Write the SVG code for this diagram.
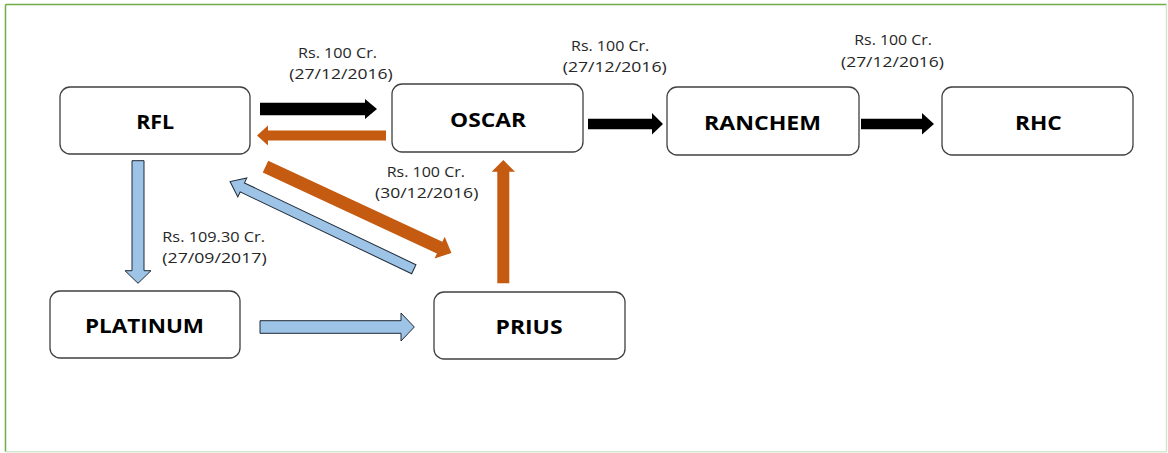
<svg xmlns="http://www.w3.org/2000/svg" width="1168" height="453" viewBox="0 0 1168 453">
<style>
.box{fill:#fff;stroke:#404040;stroke-width:1.3}
.nl{font-family:"Open Sans","Liberation Sans",Arial,sans-serif;font-weight:bold;font-size:20px;fill:#000;text-anchor:middle}
.el{font-family:"Open Sans","Liberation Sans",Arial,sans-serif;font-size:15px;fill:#262626}
.blk{fill:#000}
.org{fill:#c55a11}
.blu{fill:#9dc3e6;stroke:#1f2a36;stroke-width:1}
</style>
<rect x="0" y="0" width="1168" height="453" fill="#fff"/>
<g id="frame">
<line x1="5.5" y1="4.5" x2="1166.5" y2="4.5" stroke="#70ad47" stroke-width="1.5"/>
<line x1="5.5" y1="4.5" x2="5.5" y2="452" stroke="#70ad47" stroke-width="1.5"/>
<line x1="1166.5" y1="4.5" x2="1166.5" y2="452" stroke="#d6e6cc" stroke-width="1.5"/>
<line x1="5.5" y1="451.8" x2="1166.5" y2="451.8" stroke="#d6e6cc" stroke-width="1.5"/>
</g>
<g id="connectors">
<polygon class="blk" points="260,102.8 365,102.8 365,99 377,109 365,119 365,115.2 260,115.2"/>
<polygon class="org" points="386,130.5 268,130.5 268,125.5 257,135.5 268,145.5 268,140.5 386,140.5"/>
<polygon class="blk" points="588,118.8 652,118.8 652,113 663,124 652,134.5 652,129.2 588,129.2"/>
<polygon class="blk" points="861,118.8 922,118.8 922,113 934,124 922,134.5 922,129.2 861,129.2"/>
<polygon class="blu" points="132,160.7 144,160.7 144,270.7 151,270.7 138,283.3 125,270.7 132,270.7"/>
<polygon class="blu" points="260,320.7 401,320.7 401,313 414.3,327 401,341 401,333.3 260,333.3"/>
<polygon class="org" points="503.3,160 515,171.7 509.3,171.7 509.3,283.3 497.3,283.3 497.3,171.7 491.7,171.7"/>
<polygon class="blu" transform="translate(413.8,269.2) rotate(205.5)" points="0,-5 190,-5 190,-10.5 203.6,0 190,10.5 190,5 0,5"/>
<polygon class="org" transform="translate(265.5,166.7) rotate(24.9)" points="0,-6.5 192,-6.5 192,-12 205,0 192,12 192,6.5 0,6.5"/>
</g>
<g id="labels">
<text class="el" x="298" y="58.3" textLength="79" lengthAdjust="spacingAndGlyphs">Rs. 100 Cr.</text>
<text class="el" x="289.3" y="79.3" textLength="103.4" lengthAdjust="spacingAndGlyphs">(27/12/2016)</text>
<text class="el" x="571" y="50.7" textLength="78.3" lengthAdjust="spacingAndGlyphs">Rs. 100 Cr.</text>
<text class="el" x="562.7" y="72.3" textLength="104" lengthAdjust="spacingAndGlyphs">(27/12/2016)</text>
<text class="el" x="854.3" y="45" textLength="77.7" lengthAdjust="spacingAndGlyphs">Rs. 100 Cr.</text>
<text class="el" x="841" y="66.7" textLength="103" lengthAdjust="spacingAndGlyphs">(27/12/2016)</text>
<text class="el" x="386.7" y="176.7" textLength="78.3" lengthAdjust="spacingAndGlyphs">Rs. 100 Cr.</text>
<text class="el" x="375" y="197.7" textLength="103.3" lengthAdjust="spacingAndGlyphs">(30/12/2016)</text>
<text class="el" x="162.3" y="242.3" textLength="102.7" lengthAdjust="spacingAndGlyphs">Rs. 109.30 Cr.</text>
<text class="el" x="162.3" y="263" textLength="104.4" lengthAdjust="spacingAndGlyphs">(27/09/2017)</text>
</g>
<g id="RFL"><rect class="box" x="60" y="87" width="190" height="67" rx="10"/><text class="nl" x="155.2" y="129.3" textLength="38" lengthAdjust="spacingAndGlyphs">RFL</text></g>
<g id="OSCAR"><rect class="box" x="392" y="84" width="191" height="68" rx="10"/><text class="nl" x="488" y="126.7" textLength="76" lengthAdjust="spacingAndGlyphs">OSCAR</text></g>
<g id="RANCHEM"><rect class="box" x="667" y="87" width="192" height="68" rx="10"/><text class="nl" x="762.5" y="129.7" textLength="117" lengthAdjust="spacingAndGlyphs">RANCHEM</text></g>
<g id="RHC"><rect class="box" x="942" y="87" width="191" height="68" rx="10"/><text class="nl" x="1038.3" y="129.7" textLength="46.7" lengthAdjust="spacingAndGlyphs">RHC</text></g>
<g id="PLATINUM"><rect class="box" x="50" y="291" width="190" height="67" rx="10"/><text class="nl" x="144.5" y="332.7" textLength="119" lengthAdjust="spacingAndGlyphs">PLATINUM</text></g>
<g id="PRIUS"><rect class="box" x="434" y="292" width="191" height="67" rx="10"/><text class="nl" x="529" y="334" textLength="67" lengthAdjust="spacingAndGlyphs">PRIUS</text></g>
</svg>
